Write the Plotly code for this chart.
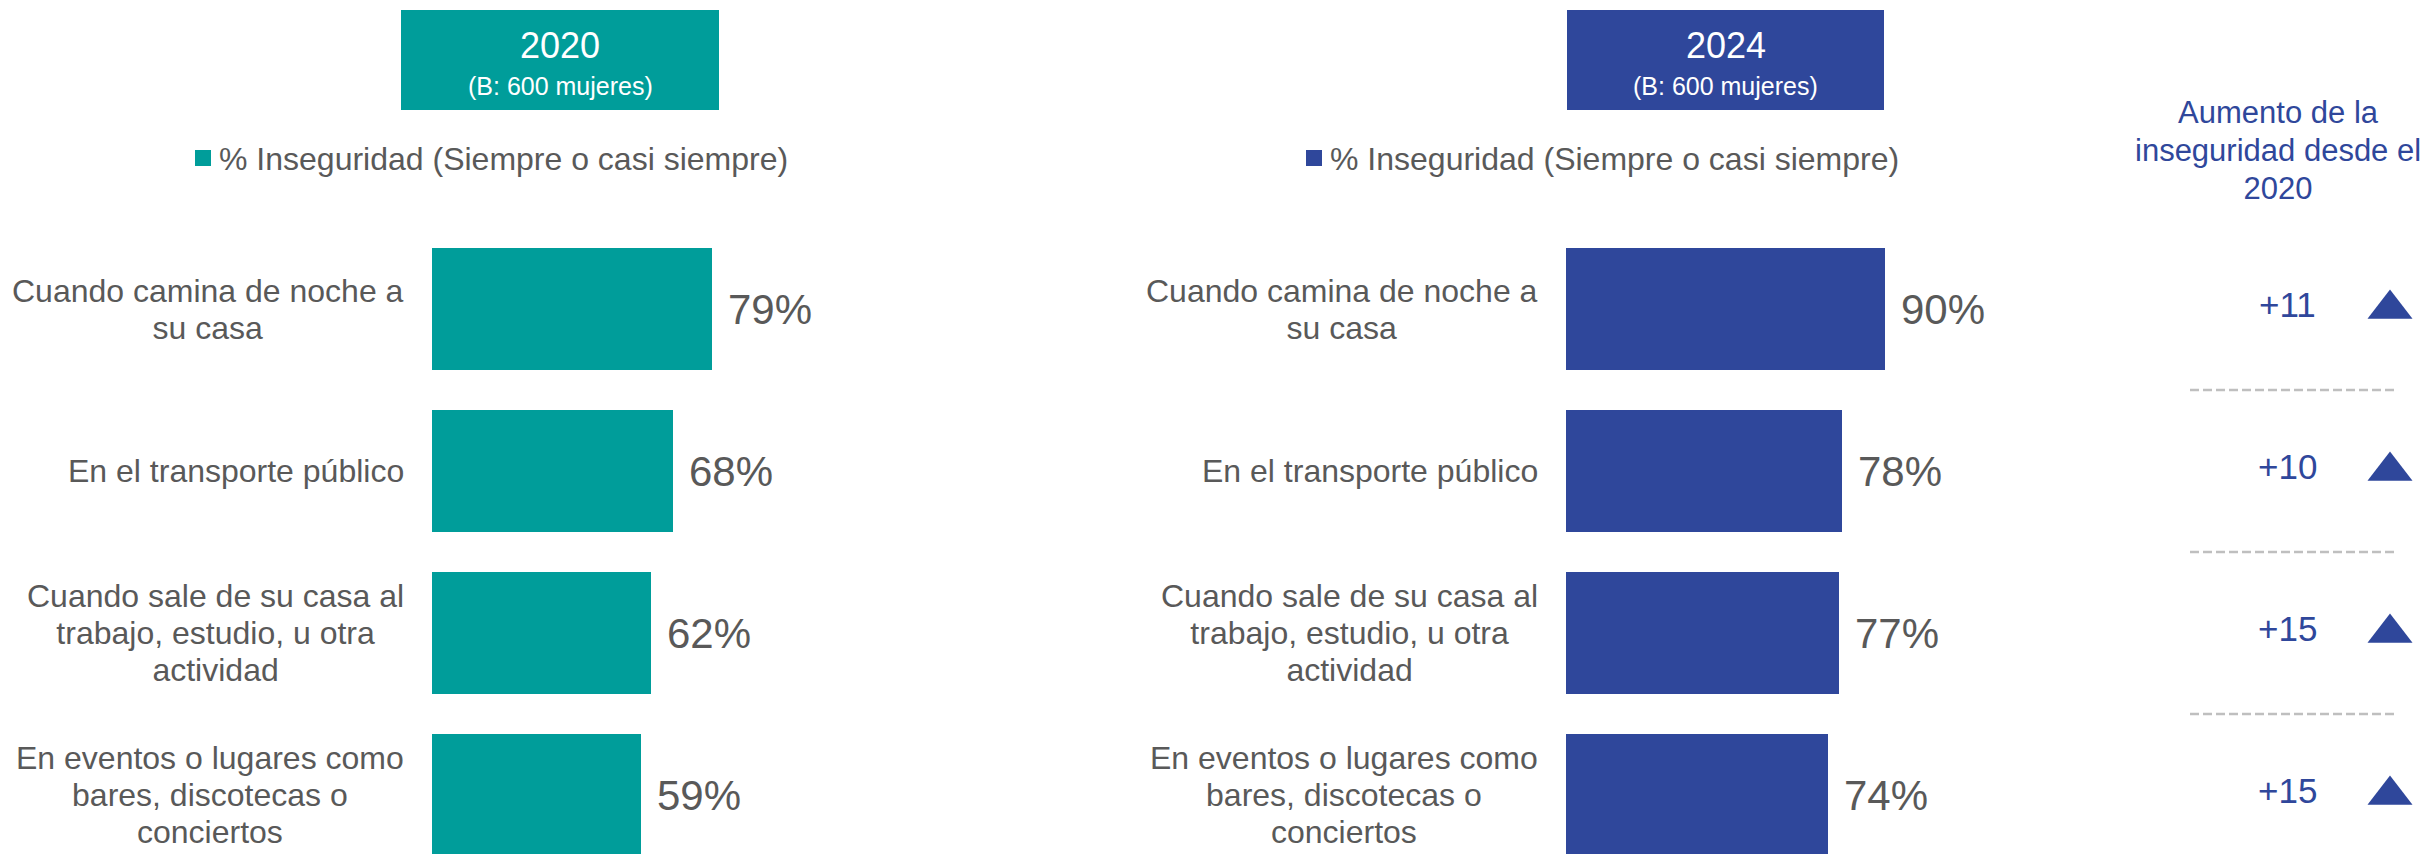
import plotly.graph_objects as go

# ---------------- data ----------------
categories = [
    "Cuando camina de noche a<br>su casa",
    "En el transporte público",
    "Cuando sale de su casa al<br>trabajo, estudio, u otra<br>actividad",
    "En eventos o lugares como<br>bares, discotecas o<br>conciertos",
]
values_2020 = [79, 68, 62, 59]
values_2024 = [90, 78, 77, 74]
increase = [11, 10, 15, 15]

year_titles = ["2020", "2024"]
base_label = "(B: 600 mujeres)"
legend_label = "% Inseguridad (Siempre o casi siempre)"
increase_title = "Aumento de la<br>inseguridad desde el<br>2020"

# ---------------- style / layout helpers ----------------
SCREEN_W, SCREEN_H = 2430, 854
OFF = 8                       # page body margin
W, H = SCREEN_W - OFF, SCREEN_H - OFF
TEAL = "#009D9A"
BLUE = "#2F479B"
GRAY = "#595959"
FONT = "Liberation Sans, Arial, sans-serif"


def px(x):
    return (x - OFF) / W


def py(y):
    return 1 - (y - OFF) / H


def sized(text, size):
    return f'<span style="font-size:{size}px">{text}</span>'


ROW0, PITCH = 309, 162        # screen y of first row centre, row pitch
n = len(categories)
y_top = -(ROW0 - OFF) / PITCH
y_bot = (n - 1) + (SCREEN_H - (ROW0 + (n - 1) * PITCH)) / PITCH

fig = go.Figure()

panels = [
    dict(vals=values_2020, color=TEAL, xaxis="x", xref="x", label_right=406,
         box=(401, 719), leg_sq=195),
    dict(vals=values_2024, color=BLUE, xaxis="x2", xref="x2", label_right=1540,
         box=(1567, 1884), leg_sq=1306),
]

annotations = []
shapes = []

for i, p in enumerate(panels):
    fig.add_trace(go.Bar(
        x=p["vals"], y=categories, orientation="h",
        marker=dict(color=p["color"], line=dict(width=0)),
        width=0.747, xaxis=p["xaxis"], yaxis="y",
        showlegend=False, hoverinfo="x+y", cliponaxis=False,
    ))
    # value labels
    for c, v in zip(categories, p["vals"]):
        annotations.append(dict(
            x=v, y=c, xref=p["xref"], yref="y", text=f"{v}%",
            showarrow=False, xanchor="left", yanchor="middle", xshift=14,
            font=dict(family=FONT, size=42, color=GRAY),
        ))
    # category labels (line spacing from base size, glyphs at 32px)
    for c in categories:
        annotations.append(dict(
            x=px(p["label_right"]), y=c, xref="paper", yref="y",
            text=sized(c, 32),
            showarrow=False, xanchor="right", yanchor="middle", align="center",
            font=dict(family=FONT, size=28.5, color=GRAY),
        ))
    # header box
    bx0, bx1 = p["box"]
    shapes.append(dict(type="rect", xref="paper", yref="paper",
                       x0=px(bx0), x1=px(bx1), y0=py(110), y1=py(10),
                       fillcolor=p["color"], line=dict(width=0), layer="below"))
    cx = (bx0 + bx1) / 2
    annotations.append(dict(x=px(cx), y=py(45), xref="paper", yref="paper",
                            text=year_titles[i], showarrow=False,
                            xanchor="center", yanchor="middle",
                            font=dict(family=FONT, size=36, color="white")))
    annotations.append(dict(x=px(cx), y=py(86), xref="paper", yref="paper",
                            text=base_label, showarrow=False,
                            xanchor="center", yanchor="middle",
                            font=dict(family=FONT, size=25, color="white")))
    # legend marker + text
    sq = p["leg_sq"]
    shapes.append(dict(type="rect", xref="paper", yref="paper",
                       x0=px(sq), x1=px(sq + 16), y0=py(166), y1=py(150),
                       fillcolor=p["color"], line=dict(width=0)))
    annotations.append(dict(x=px(sq + 22), y=py(159), xref="paper", yref="paper",
                            text=legend_label, showarrow=False,
                            xanchor="left", yanchor="middle",
                            font=dict(family=FONT, size=32, color=GRAY)))

# increase column
annotations.append(dict(x=px(2278), y=py(151), xref="paper", yref="paper",
                        text=sized(increase_title, 31), showarrow=False, align="center",
                        xanchor="center", yanchor="middle",
                        font=dict(family=FONT, size=29.3, color=BLUE)))
for c, d in zip(categories, increase):
    annotations.append(dict(x=0, y=c, xref="x3", yref="y", text=f"+{d}",
                            showarrow=False, xanchor="center", yanchor="middle",
                            yshift=5,
                            font=dict(family=FONT, size=35, color=BLUE)))
fig.add_trace(go.Scatter(
    x=[1] * n, y=categories, xaxis="x3", yaxis="y",
    mode="markers", marker=dict(symbol="triangle-up", size=39, color=BLUE),
    showlegend=False, cliponaxis=False, hoverinfo="skip",
))
# dashed separators between rows
for k in range(n - 1):
    shapes.append(dict(type="line", xref="paper", yref="y",
                       x0=px(2190), x1=px(2398), y0=k + 0.5, y1=k + 0.5,
                       line=dict(color="#BFBFBF", width=2.5, dash="9px,4px")))

hidden = dict(visible=False, showgrid=False, zeroline=False, fixedrange=True)
fig.update_layout(
    width=W, height=H,
    margin=dict(l=0, r=0, t=0, b=0),
    paper_bgcolor="white", plot_bgcolor="white",
    xaxis=dict(domain=[px(432), px(432 + 354)], range=[0, 100], anchor="y", **hidden),
    xaxis2=dict(domain=[px(1566), px(1566 + 354)], range=[0, 100], anchor="y", **hidden),
    xaxis3=dict(domain=[px(2287), px(2390)], range=[0, 1], anchor="y", **hidden),
    yaxis=dict(domain=[0, 1], type="category", categoryorder="array",
               categoryarray=categories, range=[y_bot, y_top], **hidden),
    annotations=annotations,
    shapes=shapes,
    bargap=0,
)

fig.write_html("out.html")
